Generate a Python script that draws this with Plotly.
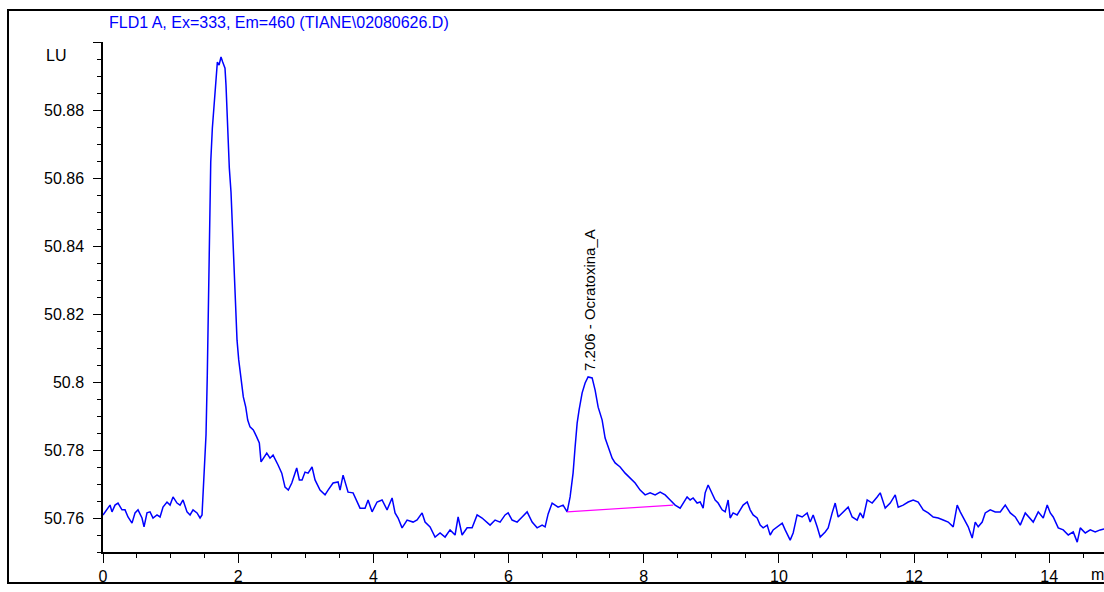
import plotly.graph_objects as go

# ---- data ----
time_min = [
    0.000, 0.059, 0.104, 0.133, 0.178, 0.222, 0.281, 0.326, 0.370, 0.429, 0.474, 0.518, 0.577, 0.607,
    0.651, 0.696, 0.740, 0.799, 0.844, 0.888, 0.947, 0.992, 1.036, 1.095, 1.140, 1.184, 1.243, 1.288,
    1.332, 1.391, 1.436, 1.465,
    1.480, 1.495, 1.524, 1.543, 1.573, 1.594, 1.618, 1.643, 1.668, 1.692, 1.717, 1.746, 1.771, 1.805,
    1.820, 1.840, 1.869, 1.894, 1.919, 1.939, 1.964, 1.983, 2.008, 2.027, 2.053, 2.076, 2.112, 2.141,
    2.175, 2.224, 2.275, 2.313, 2.338, 2.383, 2.423, 2.471, 2.516, 2.590, 2.645, 2.693, 2.742, 2.793,
    2.866, 2.905,
    2.945, 2.989, 3.034, 3.093, 3.137, 3.211, 3.285, 3.330, 3.404, 3.478, 3.507, 3.552, 3.626, 3.700,
    3.759, 3.803, 3.877, 3.922, 3.981, 4.055, 4.129, 4.203, 4.277, 4.321, 4.366, 4.425, 4.499, 4.588,
    4.647, 4.721, 4.765, 4.839, 4.913, 4.987, 5.061, 5.135, 5.209, 5.254, 5.313, 5.387, 5.461, 5.535,
    5.609, 5.683, 5.727, 5.801, 5.875, 5.949, 5.994, 6.053, 6.127, 6.201, 6.275, 6.349, 6.423, 6.497,
    6.541, 6.586, 6.645, 6.689, 6.733, 6.807, 6.867,
    6.911, 6.955, 6.985, 7.015, 7.044, 7.089, 7.133, 7.177, 7.237, 7.281, 7.326, 7.385, 7.429, 7.473,
    7.533, 7.577, 7.651, 7.725, 7.799, 7.873, 7.947, 8.021, 8.095, 8.169, 8.243, 8.317, 8.391, 8.465,
    8.539, 8.583, 8.642, 8.687, 8.731, 8.790, 8.835, 8.879, 8.909, 8.953, 9.012, 9.057, 9.101, 9.160,
    9.205, 9.249, 9.279, 9.323, 9.382, 9.427, 9.471, 9.531, 9.575, 9.619, 9.678, 9.723, 9.767, 9.827,
    9.871, 9.915, 9.974,
    10.049, 10.093, 10.167, 10.211, 10.270, 10.344, 10.418, 10.463, 10.507, 10.566, 10.611, 10.685,
    10.729, 10.788, 10.833, 10.877, 10.951, 11.025, 11.084, 11.158, 11.203, 11.247, 11.306, 11.380,
    11.454, 11.499, 11.573, 11.647, 11.721, 11.765, 11.839, 11.913, 11.987, 12.061, 12.135, 12.209,
    12.283, 12.357, 12.431, 12.505, 12.579, 12.638, 12.683, 12.727, 12.801, 12.860, 12.905, 12.949,
    13.008, 13.053, 13.127, 13.201, 13.275, 13.349, 13.423, 13.497, 13.571, 13.645, 13.719, 13.763,
    13.837, 13.911, 13.970, 14.015, 14.059, 14.133, 14.207, 14.281, 14.355, 14.414, 14.459, 14.533,
    14.607, 14.680, 14.754, 14.813,
]

signal_lu = [
    50.7609, 50.7624, 50.7638, 50.7618, 50.7638, 50.7644, 50.7624, 50.7624, 50.7603, 50.7585, 50.7615,
    50.7624, 50.7600, 50.7574, 50.7615, 50.7618, 50.7600, 50.7609, 50.7603, 50.7632, 50.7647, 50.7638,
    50.7662, 50.7644, 50.7638, 50.7653, 50.7618, 50.7609, 50.7624, 50.7615, 50.7600, 50.7609,
    50.7674, 50.7703, 50.7844, 50.8020, 50.8397, 50.8647, 50.8747, 50.8808, 50.8894, 50.8941, 50.8932,
    50.8956, 50.8941, 50.8923, 50.8873, 50.8756, 50.8629, 50.8558, 50.8441, 50.8306, 50.8206, 50.8123,
    50.8065, 50.8035, 50.7997, 50.7956, 50.7926, 50.7888, 50.7868, 50.7859, 50.7838, 50.7821, 50.7765,
    50.7779, 50.7791, 50.7776, 50.7785, 50.7756, 50.7732, 50.7691, 50.7682, 50.7703, 50.7747, 50.7712,
    50.7712, 50.7735, 50.7732, 50.7750, 50.7712, 50.7682, 50.7668, 50.7682, 50.7703, 50.7706, 50.7682,
    50.7726, 50.7676, 50.7674, 50.7647, 50.7629, 50.7629, 50.7653, 50.7618, 50.7647, 50.7653, 50.7624,
    50.7659, 50.7615, 50.7600, 50.7571, 50.7594, 50.7588, 50.7594, 50.7615, 50.7588, 50.7574, 50.7544,
    50.7556, 50.7544, 50.7565, 50.7550, 50.7603, 50.7550, 50.7571, 50.7571, 50.7609, 50.7600, 50.7588,
    50.7579, 50.7594, 50.7588, 50.7609, 50.7615, 50.7594, 50.7588, 50.7603, 50.7618, 50.7588, 50.7571,
    50.7579, 50.7574, 50.7612, 50.7644, 50.7638, 50.7632, 50.7638, 50.7618,
    50.7662, 50.7732, 50.7809, 50.7879, 50.7918, 50.7968, 50.7997, 50.8015, 50.8012, 50.7976, 50.7926,
    50.7888, 50.7835, 50.7809, 50.7776, 50.7762, 50.7750, 50.7732, 50.7718, 50.7703, 50.7682, 50.7668,
    50.7674, 50.7668, 50.7676, 50.7668, 50.7653, 50.7638, 50.7629, 50.7644, 50.7662, 50.7653, 50.7659,
    50.7644, 50.7647, 50.7629, 50.7674, 50.7697, 50.7674, 50.7653, 50.7644, 50.7624, 50.7618, 50.7653,
    50.7600, 50.7615, 50.7609, 50.7624, 50.7638, 50.7647, 50.7624, 50.7609, 50.7600, 50.7579, 50.7571,
    50.7579, 50.7550, 50.7565, 50.7574,
    50.7585, 50.7565, 50.7535, 50.7556, 50.7609, 50.7603, 50.7615, 50.7588, 50.7609, 50.7574, 50.7544,
    50.7559, 50.7571, 50.7615, 50.7644, 50.7603, 50.7618, 50.7632, 50.7603, 50.7594, 50.7615, 50.7600,
    50.7653, 50.7644, 50.7662, 50.7674, 50.7629, 50.7644, 50.7668, 50.7632, 50.7638, 50.7647, 50.7653,
    50.7647, 50.7624, 50.7615, 50.7603, 50.7600, 50.7594, 50.7588, 50.7574, 50.7638, 50.7618, 50.7603,
    50.7574, 50.7541, 50.7588, 50.7574, 50.7588, 50.7615, 50.7624, 50.7618, 50.7618, 50.7638, 50.7615,
    50.7603, 50.7579, 50.7615, 50.7600, 50.7588, 50.7618, 50.7600, 50.7638, 50.7615, 50.7603, 50.7571,
    50.7565, 50.7550, 50.7559, 50.7529, 50.7571, 50.7556, 50.7565, 50.7559, 50.7565, 50.7568,
]

baseline_time = [6.867, 8.436]
baseline_lu = [50.7618, 50.7638]

peak_rt = 7.206
peak_height = 50.8015
peak_name = "Ocratoxina_A"

y_tick_vals = [50.76, 50.78, 50.80, 50.82, 50.84, 50.86, 50.88, 50.90]
y_tick_text = ["50.76", "50.78", "50.8", "50.82", "50.84", "50.86", "50.88", ""]
x_tick_vals = [0, 2, 4, 6, 8, 10, 12, 14]
x_tick_text = ["0", "2", "4", "6", "8", "10", "12", "14"]

title_text = "FLD1 A, Ex=333, Em=460 (TIANE\\02080626.D)"
y_unit = "LU"
x_unit = "min"

FONT = "Liberation Sans, Arial, sans-serif"

fig = go.Figure()
fig.add_trace(go.Scatter(x=time_min, y=signal_lu, mode="lines",
                         line=dict(color="#0000ff", width=1.5), hoverinfo="skip"))
fig.add_trace(go.Scatter(x=baseline_time, y=baseline_lu, mode="lines",
                         line=dict(color="#ff00ff", width=1.2), hoverinfo="skip"))

fig.update_layout(
    width=1104, height=592,
    margin=dict(l=103, r=0, t=42, b=40, pad=0),
    paper_bgcolor="white", plot_bgcolor="white",
    showlegend=False,
    font=dict(family=FONT, size=16, color="black"),
)

fig.update_xaxes(
    range=[0, 14.81], showgrid=False, zeroline=False,
    showline=True, linecolor="black", linewidth=1.5,
    tickmode="array", tickvals=x_tick_vals, ticktext=x_tick_text,
    ticks="outside", ticklen=9, tickwidth=1.3, tickcolor="black",
    tickfont=dict(family=FONT, size=16, color="black"),
    minor=dict(dtick=0.5, tick0=0, ticks="outside", ticklen=4, tickwidth=1.2, tickcolor="black", showgrid=False),
)
fig.update_yaxes(
    range=[50.75, 50.90], showgrid=False, zeroline=False,
    showline=True, linecolor="black", linewidth=1.5,
    tickmode="array", tickvals=y_tick_vals, ticktext=y_tick_text,
    ticks="outside", ticklen=8, tickwidth=1.3, tickcolor="black",
    tickfont=dict(family=FONT, size=16, color="black"),
    ticklabelstandoff=6,
    minor=dict(dtick=0.005, tick0=50.76, ticks="outside", ticklen=4, tickwidth=1.2, tickcolor="black", showgrid=False),
)

# outer frame
fig.add_shape(type="rect", xref="paper", yref="paper",
              x0=-0.0949, x1=1.02, y0=-0.0608, y1=1.0627,
              line=dict(color="black", width=2), fillcolor="rgba(0,0,0,0)", layer="above")

# texts
fig.add_annotation(xref="paper", yref="paper", x=0.004, y=1.039, xanchor="left", yanchor="middle",
                   text=title_text, showarrow=False,
                   font=dict(family=FONT, size=16, color="#0000ff"))
fig.add_annotation(xref="paper", yref="paper", x=-0.047, y=0.9745, xanchor="center", yanchor="middle",
                   text=y_unit, showarrow=False, font=dict(family=FONT, size=16, color="black"))
fig.add_annotation(xref="paper", yref="paper", x=0.985, y=-0.045, xanchor="left", yanchor="middle",
                   text=x_unit, showarrow=False, font=dict(family=FONT, size=16, color="black"))
fig.add_annotation(x=peak_rt, y=peak_height, xref="x", yref="y",
                   text=f"{peak_rt:.3f} - {peak_name}", textangle=-90,
                   xanchor="center", yanchor="bottom", yshift=4, showarrow=False,
                   font=dict(family=FONT, size=15, color="black"))

fig.write_html(
    "out.html",
    config={"displayModeBar": False},
    post_script="document.body.style.margin='0';document.documentElement.style.overflow='hidden';",
)
